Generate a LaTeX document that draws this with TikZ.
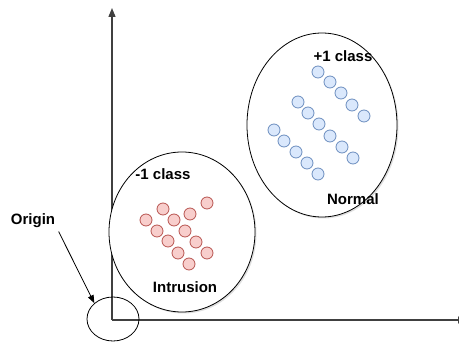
\documentclass[tikz,border=0pt]{standalone}
\usepackage{fontspec}
\setmainfont{Liberation Sans}
\usetikzlibrary{arrows.meta, shapes.geometric, shadows}

\definecolor{redfill}{HTML}{F8CECC}
\definecolor{redline}{HTML}{B85450}
\definecolor{bluefill}{HTML}{DAE8FC}
\definecolor{blueline}{HTML}{6C8EBF}

\tikzset{
    axis/.style={draw=black!75, line width=1.4pt, -{Triangle[width=7pt,length=9pt]}},
    blob/.style={draw, ellipse, line width=0.8pt, fill=white, inner sep=0pt,
        drop shadow={shadow xshift=1.5pt, shadow yshift=-1.5pt, opacity=0.25}},
    dotred/.style={draw=redline, fill=redfill, circle, minimum size=12pt, inner sep=0pt, line width=0.8pt},
    dotblue/.style={draw=blueline, fill=bluefill, circle, minimum size=12pt, inner sep=0pt, line width=0.8pt},
    lbl/.style={font=\bfseries\fontsize{15}{17}\selectfont}
}

\begin{document}
\begin{tikzpicture}[x=1pt, y=-1pt]
    \useasboundingbox (0, 0) rectangle (459, 345);

    % axes
    \coordinate (A) at (112, 320);
    \coordinate (Y) at (112, 8);
    \coordinate (X) at (467, 320);
    \draw[axis] (A) -- (Y);
    \draw[axis] (A) -- (X);

    % clusters
    \node[blob, minimum width=146pt, minimum height=160pt] at (182, 232) (I) {};
    \node[blob, minimum width=150pt, minimum height=184pt] at (322, 125) (N) {};

    % origin
    \node[draw, ellipse, line width=0.8pt, minimum width=52pt, minimum height=44pt] at (113, 319) (O) {};
    \node[lbl] at (33, 221) (L) {Origin};
    \draw[-{Triangle[width=6pt,length=8pt]}, line width=0.8pt] (L.south east) -- (O.north west);

    % -1 class
    \node[lbl] at (163, 174) (Im) {-1 class};
    \node[lbl] at (185, 287) (It) {Intrusion};
    \foreach \n/\x/\y in {1/207/203, 2/163/209, 3/190/214, 4/146/220, 5/174/220, 6/157/231,
        7/185/231, 8/168/241, 9/196/242, 10/178/253, 11/207/253, 12/189/264}
        \node[dotred] at (\x, \y) (r\n) {};

    % +1 class
    \node[lbl] at (343, 56) (Np) {+1 class};
    \node[lbl] at (353, 199) (Nt) {Normal};
    \foreach \n/\x/\y in {1/318/72, 2/330/82, 3/341/93, 4/352/105, 5/364/116,
        6/298/102, 7/308/113, 8/319/124, 9/330/136, 10/342/147, 11/353/158,
        12/274/130, 13/284/141, 14/296/152, 15/307/163, 16/318/174}
        \node[dotblue] at (\x, \y) (b\n) {};
\end{tikzpicture}
\end{document}
